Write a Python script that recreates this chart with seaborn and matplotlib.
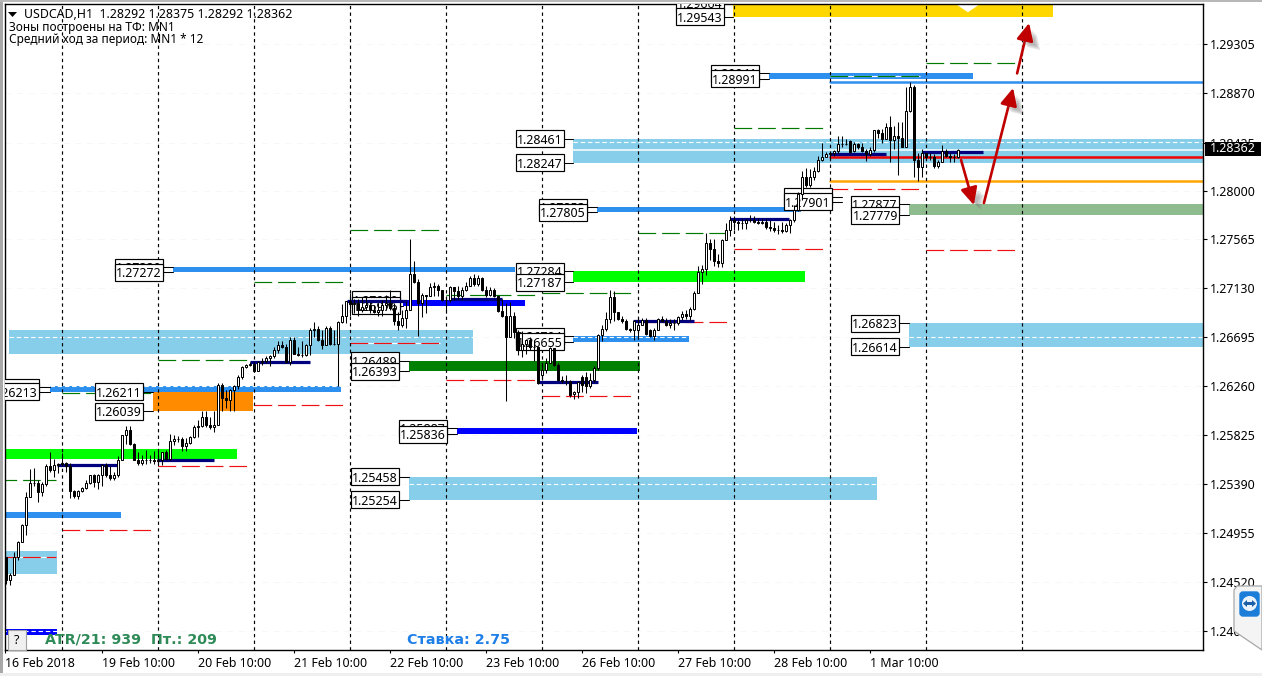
import numpy as np
import matplotlib
matplotlib.use('Agg')
import matplotlib.pyplot as plt
import matplotlib.patheffects as pe
from matplotlib.patches import Rectangle, Polygon, Ellipse, FancyBboxPatch
from matplotlib.transforms import IdentityTransform
import seaborn as sns

# candles, in pips (price * 10000), one value per H1 bar
closes = [12454,12459,12475,12488,12503,12528,12540,12540,12532,12539,
          12555,12552,12556,12557,12558,12555,12533,12529,12533,12536,
          12540,12547,12541,12547,12556,12547,12545,12547,12561,12583,
          12587,12575,12561,12558,12561,12561,12561,12560,12561,12568,
          12562,12578,12579,12579,12573,12576,12581,12590,12591,12599,
          12592,12590,12592,12627,12616,12614,12623,12626,12634,12643,
          12645,12646,12640,12648,12649,12651,12653,12658,12663,12661,
          12648,12667,12655,12654,12654,12663,12676,12677,12667,12663,
          12678,12664,12664,12683,12689,12702,12699,12700,12694,12697,
          12698,12694,12692,12694,12698,12700,12696,12684,12681,12687,
          12694,12726,12719,12700,12707,12706,12714,12715,12712,12703,
          12703,12714,12711,12706,12712,12715,12722,12717,12722,12712,
          12707,12712,12706,12693,12689,12670,12689,12674,12658,12664,
          12667,12661,12661,12629,12641,12647,12660,12645,12632,12631,
          12631,12618,12621,12630,12627,12626,12632,12642,12672,12677,
          12686,12705,12692,12686,12684,12677,12676,12684,12681,12685,
          12673,12671,12676,12686,12684,12681,12682,12682,12688,12690,
          12689,12695,12709,12728,12730,12753,12748,12737,12736,12756,
          12765,12774,12772,12771,12771,12774,12774,12772,12771,12772,
          12768,12767,12765,12765,12764,12769,12774,12783,12797,12812,
          12805,12812,12817,12827,12830,12832,12833,12835,12841,12841,
          12841,12834,12841,12839,12835,12832,12836,12854,12851,12846,
          12856,12845,12848,12847,12839,12871,12892,12827,12821,12833,
          12830,12830,12822,12825,12835,12831,12830,12830,12836]
highs = [12475,12460,12479,12489,12504,12532,12553,12554,12543,12541,
         12557,12568,12562,12558,12567,12559,12558,12534,12534,12537,
         12543,12547,12548,12548,12557,12558,12555,12550,12564,12583,
         12591,12591,12576,12568,12565,12570,12565,12569,12570,12568,
         12570,12584,12583,12582,12581,12580,12582,12592,12596,12604,
         12604,12599,12604,12629,12629,12623,12624,12627,12636,12644,
         12646,12648,12648,12649,12651,12653,12654,12661,12666,12666,
         12664,12670,12670,12661,12666,12664,12678,12683,12680,12676,
         12680,12680,12676,12684,12699,12702,12709,12704,12704,12705,
         12706,12701,12698,12700,12703,12707,12712,12700,12692,12694,
         12701,12757,12737,12721,12709,12707,12718,12719,12717,12712,
         12706,12715,12713,12715,12714,12719,12724,12726,12725,12723,
         12715,12714,12713,12707,12704,12700,12701,12692,12676,12675,
         12668,12670,12667,12662,12646,12651,12661,12660,12647,12635,
         12636,12632,12622,12631,12636,12639,12638,12644,12673,12681,
         12692,12712,12711,12692,12689,12686,12678,12685,12687,12687,
         12687,12677,12678,12687,12689,12687,12686,12686,12689,12693,
         12694,12697,12711,12733,12734,12762,12757,12757,12744,12757,
         12771,12777,12777,12774,12775,12775,12778,12777,12776,12775,
         12775,12774,12772,12769,12772,12771,12775,12787,12799,12817,
         12820,12819,12821,12831,12842,12834,12833,12836,12848,12848,
         12846,12845,12843,12842,12842,12837,12839,12854,12855,12855,
         12860,12866,12857,12861,12861,12892,12896,12894,12833,12837,
         12833,12833,12832,12827,12840,12837,12833,12832,12837]
lows = [12451,12450,12459,12472,12488,12494,12528,12538,12523,12529,
        12538,12550,12546,12549,12555,12550,12527,12527,12526,12532,
        12535,12539,12537,12535,12538,12546,12543,12543,12546,12561,
        12575,12574,12561,12556,12556,12557,12558,12557,12555,12556,
        12561,12561,12574,12577,12569,12569,12575,12580,12581,12590,
        12590,12588,12586,12592,12604,12607,12604,12604,12624,12633,
        12642,12644,12639,12643,12645,12647,12644,12651,12656,12660,
        12647,12645,12655,12653,12652,12653,12654,12670,12666,12659,
        12663,12663,12663,12626,12682,12682,12689,12691,12689,12692,
        12694,12691,12691,12689,12689,12694,12694,12681,12676,12679,
        12678,12694,12718,12671,12688,12691,12706,12706,12706,12702,
        12691,12701,12703,12704,12704,12711,12715,12715,12715,12711,
        12705,12706,12705,12692,12688,12613,12670,12669,12654,12652,
        12655,12658,12649,12628,12632,12638,12647,12644,12631,12629,
        12627,12617,12615,12616,12621,12620,12625,12630,12641,12666,
        12675,12682,12684,12685,12682,12676,12674,12667,12670,12681,
        12672,12670,12667,12676,12683,12680,12678,12676,12681,12685,
        12686,12685,12694,12709,12717,12725,12738,12733,12732,12732,
        12756,12760,12765,12765,12766,12766,12772,12771,12770,12770,
        12766,12764,12763,12761,12762,12763,12762,12772,12782,12792,
        12803,12803,12809,12816,12826,12830,12828,12831,12833,12839,
        12840,12833,12834,12837,12834,12826,12831,12834,12847,12842,
        12846,12825,12837,12814,12839,12839,12870,12812,12808,12812,
        12828,12827,12820,12820,12825,12830,12825,12825,12829]
first_open = 12475
gap_opens = {134: 12636, 142: 12619, 144: 12634, 145: 12634, 158: 12676,
             161: 12676, 211: 12844, 212: 12835}

# zones: bar from, bar to, top, bottom (pips)
zone_from = [181.9, 190.9, 141.9, 225.9, 147.9, 41.9, 141.9, 99.4, 0.9, 141.9,
             100.9, 225.9, 11.1, 36.9, 112.9, 100.9, -1, -1, -1, -1]
zone_to = [261.9, 241.9, 300, 300, 198.9, 127.4, 199.9, 129.9, 116.9, 170.9,
           158.6, 300, 83.9, 61.9, 157.9, 217.9, 57.9, 28.9, 12.9, 12.9]
zone_top = [12966, 12904.7, 12846.1, 12787.7, 12785.3, 12732, 12728.4, 12702.8,
            12676.1, 12670.8, 12648.9, 12682.3, 12626.4, 12621.1, 12589, 12545.8,
            12570.5, 12514.5, 12479.9, 12410.7]
zone_bottom = [12954.3, 12899.1, 12824.7, 12777.9, 12780.5, 12727.2, 12718.7, 12697.4,
               12654.8, 12665.5, 12639.3, 12661.4, 12621.3, 12603.9, 12584, 12525.4,
               12561.6, 12509.2, 12459.5, 12405.4]
zone_colors = ['#FFD700', '#2E90EE', '#87CEEB', '#8FBC8F', '#2E90EE', '#2E90EE', '#00FF00',
               '#0000FF', '#87CEEB', '#2E90EE', '#008000', '#87CEEB', '#2E90EE', '#FF8C00',
               '#0000FF', '#87CEEB', '#00FF00', '#2E90EE', '#87CEEB', '#0000FF']

# daily levels
day_start = [-10, 14, 38, 62, 86, 110, 134, 158, 182, 206, 230]
day_green = [12543, 12620, 12649.5, 12718.7, 12764.9, 12707.2, 12709, 12762.2, 12855.5, 12901.9, 12912.9]
day_red = [12474.6, 12498.5, 12555, 12609.5, 12664.6, 12631.7, 12617.5, 12683.2, 12748, 12801.3, 12747.1]

# navy session lines
navy_from = [12.9, 37.9, 61.1, 85.4, 111, 132.9, 156.9, 181.1, 206.1, 229.1]
navy_to = [27.9, 52.1, 76.1, 100.4, 124, 148.1, 172.1, 195.9, 220.1, 244.4]
navy_level = [12556, 12560.7, 12647.3, 12701.9, 12704, 12630, 12684, 12774.7, 12832.4, 12834]

# white lines inside the zones
dash_level = [12843.3, 12669.5, 12669.5, 12669.5, 12539, 12626, 12408.9]
dash_from = [141.9, 0.9, 141.9, 225.9, 100.9, 11.1, -1]
dash_to = [300, 116.9, 170.9, 300, 217.9, 83.9, 12.9]

# daily levels that run through a zone show white in their gaps
gap_level = [12901.9, 12664.6, 12474.6]
gap_from = [206, 86, -1]
gap_to = [228.5, 108.5, 12.5]

# price labels: text, price, bar of right edge, bar where the connector ends
label_text = ['1.29664', '1.29543', '1.29041', '1.28991', '1.28461', '1.28247', '1.27877', '1.27779',
              '1.27853', '1.27805', '1.27946', '1.27901', '1.27284', '1.27187', '1.27320', '1.27272',
              '1.27030', '1.26976', '1.26704', '1.26655', '1.26489', '1.26393', '1.26823', '1.26614',
              '1.26255', '1.26213', '1.26211', '1.26039', '1.25887', '1.25836', '1.25458', '1.25254']
label_right = [179.6, 179.6, 188.4, 188.4, 139.6, 139.6, 223.4, 223.4,
               145.4, 145.4, 206.6, 206.6, 139.6, 139.6, 39.4, 39.4,
               98.6, 98.6, 139.6, 139.6, 98.4, 98.4, 223.4, 223.4,
               8.4, 8.4, 34.4, 34.4, 110.4, 110.4, 98.4, 98.4]
label_end = [181.9, 181.9, 190.9, 190.9, 141.9, 141.9, 225.9, 225.9,
             147.9, 147.9, 209.1, 209.1, 141.9, 141.9, 41.9, 41.9,
             99.4, 99.4, 141.9, 141.9, 100.9, 100.9, 225.9, 225.9,
             11.1, 11.1, 36.9, 36.9, 112.9, 112.9, 100.9, 100.9]

# long levels from 28 Feb on
long_from = 206
long_to = 300
long_blue = 12896
long_red = 12830
long_orange = 12808.4
long_white = 12835.9

# hand drawn arrows: bar from, price from, bar to, price to
arrow_x0 = [238.9, 244.6, 252.9]
arrow_y0 = [12827, 12788.9, 12904]
arrow_x1 = [242.1, 251.9, 255.9]
arrow_y1 = [12787, 12891, 12948.7]

y_ticks = [1.29305, 1.28870, 1.28425, 1.28000, 1.27565, 1.27130, 1.26695,
           1.26260, 1.25825, 1.25390, 1.24955, 1.24520, 1.24085]
x_tick_bars = [-0.1, 24, 48, 72, 96, 120, 144, 168, 192, 216]
x_tick_text = ['16 Feb 2018', '19 Feb 10:00', '20 Feb 10:00', '21 Feb 10:00', '22 Feb 10:00',
               '23 Feb 10:00', '26 Feb 10:00', '27 Feb 10:00', '28 Feb 10:00', '1 Mar 10:00']
v_lines = [14, 38, 62, 86, 110, 134, 158, 182, 206, 230, 254]

W, H = 1262, 676
FONT = 'Noto Sans'
FS = 8.9

sns.set_theme(style='white', font=FONT)
plt.rcParams['axes.unicode_minus'] = False

closes = np.array(closes, dtype=float)
highs = np.array(highs, dtype=float)
lows = np.array(lows, dtype=float)
opens = np.r_[first_open, closes[:-1]]
for k, v in gap_opens.items():
    opens[k] = v
bars = np.arange(len(closes))

fig = plt.figure(figsize=(W / 100, H / 100), dpi=100, facecolor='white')
ax = fig.add_axes([5 / W, (H - 650) / H, 1198 / W, 646 / H])
ax.set_xlim(-0.125, 299.375)
ax.set_ylim(1.23920, 1.29656)
ax.set_facecolor('white')
ax.grid(axis='y', color='#F7F7F7', lw=0.7, ls=(0, (6, 6)))
ax.set_axisbelow(True)

# zones
ax.bar(zone_from, (np.array(zone_top) - np.array(zone_bottom)) / 1e4,
       width=np.array(zone_to) - np.array(zone_from),
       bottom=np.array(zone_bottom) / 1e4, align='edge', color=zone_colors, lw=0, zorder=1)
ax.fill([238.1, 240.6, 243.1], [1.29650, 1.29590, 1.29650], color='white', zorder=1.5)

# white lines
ax.hlines(np.array(dash_level) / 1e4, dash_from, dash_to, color='white', lw=0.8,
          ls=(0, (4, 2.5)), zorder=2)
ax.hlines(long_white / 1e4, 141.9, 300, color='white', lw=1.1, zorder=2)
ax.hlines(np.array(gap_level) / 1e4, gap_from, gap_to, color='white', lw=0.85, zorder=2.1)

# daily levels
green_style = dict(color='#007A00', lw=0.85, ls=(0, (15, 5)), zorder=2.2)
red_style = dict(color='#F01010', lw=0.85, ls=(0, (15, 5)), zorder=2.2)
ax.hlines(np.array(day_green) / 1e4, day_start, np.array(day_start) + 22.5, **green_style)
ax.hlines(np.array(day_red) / 1e4, day_start, np.array(day_start) + 22.5, **red_style)

# long levels
for level, col in [(long_blue, '#2E90EE'), (long_red, '#F00000'), (long_orange, '#FFA500')]:
    sns.lineplot(x=[long_from, long_to], y=[level / 1e4, level / 1e4], color=col, lw=1.8,
                 estimator=None, ax=ax, zorder=2.5)

# day separators
ax.vlines(v_lines, 1.23920, 1.29656, color='black', lw=0.85, ls=(0, (2.8, 2.8)), zorder=3)

# labels, each one hides the one drawn before it
box_w = 12
box_h = 15.1 / 1e4
for i, (txt, right, end) in enumerate(zip(label_text, label_right, label_end)):
    price = float(txt)
    z = 3.3 + i * 0.03
    ax.plot([right, end], [price, price], color='black', lw=0.75, zorder=z)
    ax.add_patch(Rectangle((right - box_w, price - box_h / 2), box_w, box_h, fc='white', ec='black',
                           lw=0.85, zorder=z + 0.01))
    ax.text(right - box_w / 2, price, txt, ha='center', va='center_baseline', fontsize=FS, color='black',
            zorder=z + 0.02, clip_on=True)

# navy lines
ax.hlines(np.array(navy_level) / 1e4, navy_from, navy_to, color='#00007F', lw=2.3, zorder=4.5)

# candles
ax.vlines(bars, lows / 1e4, highs / 1e4, color='black', lw=0.75, zorder=5)
body_low = np.minimum(opens, closes) / 1e4
body_h = np.abs(closes - opens) / 1e4
up = closes >= opens
ax.bar(bars[up], body_h[up], bottom=body_low[up], width=0.5, fc='white', ec='black', lw=0.72, zorder=5.1)
ax.bar(bars[~up], body_h[~up], bottom=body_low[~up], width=0.5, fc='black', ec='black', lw=0.72, zorder=5.1)

# arrows
for x0, y0, x1, y1 in zip(arrow_x0, arrow_y0, arrow_x1, arrow_y1):
    ann = ax.annotate('', xy=(x1, y1 / 1e4), xytext=(x0, y0 / 1e4),
                      arrowprops=dict(arrowstyle='-|>,head_length=0.75,head_width=0.36',
                                      color='#C00000', lw=1.9, mutation_scale=14, shrinkA=0, shrinkB=0),
                      zorder=6)
    ann.arrow_patch.set_path_effects(
        [pe.SimplePatchShadow(offset=(o, -o), shadow_rgbFace='#777777', alpha=0.16) for o in (6, 5, 4, 3)]
        + [pe.Normal()])

# axes
ax.set_yticks(y_ticks)
ax.set_yticklabels([f'{t:.5f}' for t in y_ticks])
ax.yaxis.tick_right()
ax.set_xticks(x_tick_bars)
ax.set_xticklabels(x_tick_text, ha='left')
ax.tick_params(axis='y', length=3, width=0.8, pad=2.2, labelsize=FS, colors='black', right=True)
ax.tick_params(axis='x', length=2.4, width=0.8, pad=2.6, labelsize=FS, colors='black', bottom=True)
ax.set_xlabel('')
ax.set_ylabel('')
for sp in ax.spines.values():
    sp.set_visible(True)
    sp.set_color('black')
    sp.set_linewidth(1.0)


def px(x, y):
    return x, H - y


# current price tag
fig.add_artist(Rectangle(px(1205, 156), 56, 14, fc='black', ec='none', transform=IdentityTransform(), zorder=8))
fig.text(1210 / W, 1 - 149 / H, '1.28362', fontsize=FS, color='white', va='center', zorder=9)

# header text
fig.text(24 / W, 1 - 14 / H, 'USDCAD,H1  1.28292 1.28375 1.28292 1.28362', fontsize=FS, va='center',
         color='black', zorder=9)
fig.text(9 / W, 1 - 27.5 / H, 'Зоны построены на ТФ: MN1', fontsize=8.5, va='center', color='black', zorder=9)
fig.text(9 / W, 1 - 39.5 / H, 'Средний ход за период: MN1 * 12', fontsize=8.5, va='center', color='black', zorder=9)
fig.add_artist(Polygon([px(8, 12), px(17, 12), px(12.5, 17)], closed=True, fc='black', ec='none',
                       transform=IdentityTransform(), zorder=9))

# bottom info
fig.text(45 / W, 1 - 639.5 / H, 'ATR/21: 939  Пт.: 209', fontsize=10.3, fontweight='bold', va='center',
         family='DejaVu Sans', color='#2E8B57', zorder=9)
fig.text(407 / W, 1 - 639.5 / H, 'Ставка: 2.75', fontsize=10.3, fontweight='bold', va='center',
         family='DejaVu Sans', color='#1E7FE8', zorder=9)
fig.add_artist(Rectangle(px(8, 650), 18, 20, fc='#F0F0F0', ec='#A0A0A0', lw=0.8,
                         transform=IdentityTransform(), zorder=8))
fig.text(17 / W, 1 - 640.5 / H, '?', fontsize=FS, ha='center', va='center', color='black', zorder=9)

# window edges
fig.add_artist(Rectangle((0, 0), 2.5, H, fc='#A8A8A8', ec='none', transform=IdentityTransform(), zorder=7))
fig.add_artist(Rectangle((0, H - 2), W, 2, fc='#B8B8B8', ec='none', transform=IdentityTransform(), zorder=7))
fig.add_artist(Rectangle((0, 0), W, 3, fc='#EFEFEF', ec='none', transform=IdentityTransform(), zorder=7))

# remote desktop widget
fig.add_artist(Polygon([px(1234, 590), px(1237, 586), px(1262, 586), px(1262, 650), px(1234, 631)], closed=True,
                       fc='#F4F4F4', ec='#A8A8A8', lw=0.9, transform=IdentityTransform(), zorder=10))
fig.add_artist(FancyBboxPatch(px(1241, 615), 17, 22, boxstyle='round,pad=1,rounding_size=3', fc='#1B7DD8', ec='#1B7DD8',
                              transform=IdentityTransform(), zorder=11))
fig.add_artist(Ellipse(px(1249.5, 603.5), 15, 15, fc='#EAF3FB', ec='none', transform=IdentityTransform(), zorder=12))
fig.add_artist(Polygon([px(1243, 603.5), px(1247, 600), px(1247, 602), px(1252, 602), px(1252, 600), px(1256, 603.5),
                        px(1252, 607), px(1252, 605), px(1247, 605), px(1247, 607)], closed=True, fc='#1B5FA8',
                       ec='none', transform=IdentityTransform(), zorder=13))

fig.savefig('out.png', dpi=100)
